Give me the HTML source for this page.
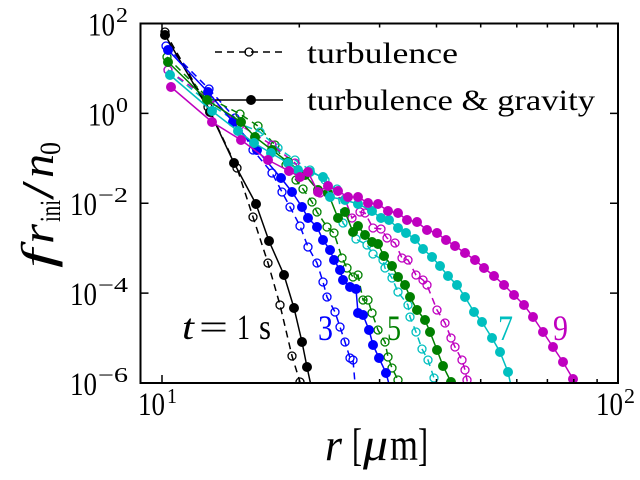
<!DOCTYPE html>
<html><head><meta charset="utf-8">
<style>html,body{margin:0;padding:0;background:#fff;}svg{display:block}</style>
</head>
<body>
<svg width="640" height="480" viewBox="0 0 640 480" xmlns="http://www.w3.org/2000/svg" font-family="'Liberation Serif', serif">
<defs>
<clipPath id="ax"><rect x="141" y="24" width="476.5" height="358.5"/></clipPath>
<marker id="fk" markerUnits="userSpaceOnUse" markerWidth="12" markerHeight="12" refX="6" refY="6" overflow="visible"><circle cx="6" cy="6" r="5" fill="#000"/></marker>
<marker id="fb" markerUnits="userSpaceOnUse" markerWidth="12" markerHeight="12" refX="6" refY="6" overflow="visible"><circle cx="6" cy="6" r="5" fill="#0000ff"/></marker>
<marker id="fg" markerUnits="userSpaceOnUse" markerWidth="12" markerHeight="12" refX="6" refY="6" overflow="visible"><circle cx="6" cy="6" r="5" fill="#008000"/></marker>
<marker id="fc" markerUnits="userSpaceOnUse" markerWidth="12" markerHeight="12" refX="6" refY="6" overflow="visible"><circle cx="6" cy="6" r="5" fill="#00bfbf"/></marker>
<marker id="fm" markerUnits="userSpaceOnUse" markerWidth="12" markerHeight="12" refX="6" refY="6" overflow="visible"><circle cx="6" cy="6" r="5" fill="#bf00bf"/></marker>
<marker id="ok" markerUnits="userSpaceOnUse" markerWidth="12" markerHeight="12" refX="6" refY="6" overflow="visible"><circle cx="6" cy="6" r="4" fill="none" stroke="#000" stroke-width="1.3" stroke-dasharray="none"/></marker>
<marker id="ob" markerUnits="userSpaceOnUse" markerWidth="12" markerHeight="12" refX="6" refY="6" overflow="visible"><circle cx="6" cy="6" r="4" fill="none" stroke="#0000ff" stroke-width="1.3" stroke-dasharray="none"/></marker>
<marker id="og" markerUnits="userSpaceOnUse" markerWidth="12" markerHeight="12" refX="6" refY="6" overflow="visible"><circle cx="6" cy="6" r="4" fill="none" stroke="#008000" stroke-width="1.3" stroke-dasharray="none"/></marker>
<marker id="oc" markerUnits="userSpaceOnUse" markerWidth="12" markerHeight="12" refX="6" refY="6" overflow="visible"><circle cx="6" cy="6" r="4" fill="none" stroke="#00bfbf" stroke-width="1.3" stroke-dasharray="none"/></marker>
<marker id="om" markerUnits="userSpaceOnUse" markerWidth="12" markerHeight="12" refX="6" refY="6" overflow="visible"><circle cx="6" cy="6" r="4" fill="none" stroke="#bf00bf" stroke-width="1.3" stroke-dasharray="none"/></marker>
</defs>
<rect width="640" height="480" fill="#fff"/>

<g clip-path="url(#ax)" fill="none" stroke-width="1.5">
 <!-- turbulence (dashed, open) -->
 <g stroke-dasharray="7,5">
  <polyline stroke="#000" marker-start="url(#ok)" marker-mid="url(#ok)" marker-end="url(#ok)" points="165,32 208,107 237,168 253,217 268,263 280,305 292,356 300,382 304,395"/>
  <polyline stroke="#0000ff" marker-start="url(#ob)" marker-mid="url(#ob)" marker-end="url(#ob)" points="166,46 209,89 235,118 253,150 272,173 282,192 290,207 300,226 308,247 317,263 323,282 327,297 335,312 340,327 345,342 350,358 353,360 356,395"/>
  <polyline stroke="#008000" marker-start="url(#og)" marker-mid="url(#og)" marker-end="url(#og)" points="167,57 207,97 240,114 258,126 275,145 286,165 296,180 303,189 312,202 317,212 327,227 334,233 342,258 347,268 353,277 358,275 363,300 368,300 372,313 378,330 385,342 388,357 392,368 398,380 402,395"/>
  <polyline stroke="#00bfbf" marker-start="url(#oc)" marker-mid="url(#oc)" marker-end="url(#oc)" points="168,70 210,104 238,123 260,132 278,148 295,160 310,170 325,180 337,189 343,223 356,239 367,245 373,254 383,260 385,268 392,278 398,292 408,305 410,317 416,332 422,349 428,360 434,378 438,395"/>
  <polyline stroke="#bf00bf" marker-start="url(#om)" marker-mid="url(#om)" marker-end="url(#om)" points="168,70 210,100 240,125 272,145 295,163 320,193 345,199 352,218 360,212 365,213 373,228 381,229 387,238 395,243 402,258 408,260 416,275 423,280 427,285 437,310 445,323 451,338 455,347 462,360 465,370 467,380 469,395"/>
 </g>
 <!-- turbulence & gravity (solid, filled) -->
 <polyline stroke="#000" marker-start="url(#fk)" marker-mid="url(#fk)" marker-end="url(#fk)" points="165,35 210,112 234,163 256,204 269,241 284,275 294,308 302,342 307,367 313,395"/>
 <polyline stroke="#0000ff" marker-start="url(#fb)" marker-mid="url(#fb)" marker-end="url(#fb)" points="168,50 208,92 233,122 257,150 281,178 292,192 302,207 308,218 317,227 323,240 330,250 334,260 340,270 343,280 350,287 356,289 358,313 363,315 369,330 373,345 379,358 386,373 392,395"/>
 <polyline stroke="#008000" marker-start="url(#fg)" marker-mid="url(#fg)" marker-end="url(#fg)" points="168,62 207,100 241,122 255,137 272,150 288,162 305,175 318,190 328,193 338,218 345,212 353,232 358,226 365,235 372,242 378,244 384,256 392,266 398,277 405,285 410,297 417,310 425,320 430,332 437,350 443,366 451,382 458,395"/>
 <polyline stroke="#00bfbf" marker-start="url(#fc)" marker-mid="url(#fc)" marker-end="url(#fc)" points="170,75 212,111 238,131 254,143 271,153 288,163 298,170 310,172 323,177 330,197 345,200 358,204 372,211 381,218 389,220 398,228 406,233 415,239 423,249 432,257 440,266 448,276 457,285 465,297 474,312 482,322 492,338 500,352 508,372 513,395"/>
 <polyline stroke="#bf00bf" marker-start="url(#fm)" marker-mid="url(#fm)" marker-end="url(#fm)" points="171,87 212,122 241,140 268,160 289,171 300,177 308,172 318,192 328,186 338,191 348,197 358,197 368,203 378,204 388,211 398,213 407,220 417,222 427,230 437,233 446,240 455,246 465,253 475,260 484,268 494,276 504,285 514,295 524,305 533,317 543,332 553,347 563,362 573,379 580,395"/>
</g>

<!-- ticks -->
<g stroke="#000" stroke-width="1.5" fill="none">
 <path d="M140.5,113.4h8M140.5,203.2h8M140.5,293.1h8M618,113.4h-8M618,203.2h-8M618,293.1h-8"/>
 <path d="M162,383v-8M162,23.5v8"/>
 <path d="M299.3,383v-4M379.6,383v-4M436.5,383v-4M480.7,383v-4M516.8,383v-4M547.4,383v-4M573.8,383v-4M597.1,383v-4"/>
 <path d="M299.3,23.5v4M379.6,23.5v4M436.5,23.5v4M480.7,23.5v4M516.8,23.5v4M547.4,23.5v4M573.8,23.5v4M597.1,23.5v4"/>
</g>
<!-- spines -->
<rect x="140.5" y="23.5" width="477.5" height="359.5" fill="none" stroke="#000" stroke-width="2"/>

<!-- legend -->
<line x1="215" y1="52" x2="283" y2="52" stroke="#000" stroke-width="1.5" stroke-dasharray="7,5"/>
<circle cx="249" cy="52" r="4" fill="none" stroke="#000" stroke-width="1.3"/>
<line x1="215" y1="100" x2="283" y2="100" stroke="#000" stroke-width="1.5"/>
<circle cx="251" cy="100" r="5" fill="#000"/>
<text x="307" y="63" font-size="30" textLength="151" lengthAdjust="spacingAndGlyphs">turbulence</text>
<text x="307" y="110" font-size="30" textLength="288" lengthAdjust="spacingAndGlyphs">turbulence &amp; gravity</text>

<!-- y tick labels -->
<g fill="#000">
 <text x="88" y="35.5" font-size="33" textLength="27" lengthAdjust="spacingAndGlyphs">10</text>
 <text x="116" y="22" font-size="21" textLength="12" lengthAdjust="spacingAndGlyphs">2</text>
 <text x="88" y="125.5" font-size="33" textLength="27" lengthAdjust="spacingAndGlyphs">10</text>
 <text x="116" y="112" font-size="21" textLength="12" lengthAdjust="spacingAndGlyphs">0</text>
 <text x="70" y="215" font-size="33" textLength="27" lengthAdjust="spacingAndGlyphs">10</text>
 <text x="98" y="202" font-size="21" textLength="30" lengthAdjust="spacingAndGlyphs">−2</text>
 <text x="70" y="305" font-size="33" textLength="27" lengthAdjust="spacingAndGlyphs">10</text>
 <text x="98" y="292" font-size="21" textLength="30" lengthAdjust="spacingAndGlyphs">−4</text>
 <text x="70" y="395" font-size="33" textLength="27" lengthAdjust="spacingAndGlyphs">10</text>
 <text x="98" y="382" font-size="21" textLength="30" lengthAdjust="spacingAndGlyphs">−6</text>
 <!-- x tick labels -->
 <text x="138" y="415" font-size="33" textLength="27" lengthAdjust="spacingAndGlyphs">10</text>
 <text x="167" y="403" font-size="21" textLength="10" lengthAdjust="spacingAndGlyphs">1</text>
 <text x="596" y="415" font-size="33" textLength="27" lengthAdjust="spacingAndGlyphs">10</text>
 <text x="624" y="403" font-size="21" textLength="11" lengthAdjust="spacingAndGlyphs">2</text>
</g>

<!-- x label -->
<g fill="#000" font-size="46">
 <text x="325" y="460" font-style="italic" textLength="17" lengthAdjust="spacingAndGlyphs">r</text>
 <text x="352" y="460" textLength="10" lengthAdjust="spacingAndGlyphs">[</text>
 <text x="363" y="460" font-style="italic" textLength="25" lengthAdjust="spacingAndGlyphs">μ</text>
 <text x="390" y="460" textLength="28" lengthAdjust="spacingAndGlyphs">m</text>
 <text x="418" y="460" textLength="10" lengthAdjust="spacingAndGlyphs">]</text>
</g>

<!-- y label -->
<g fill="#000" transform="translate(53,268) rotate(-90)">
 <text x="0" y="0" font-size="46" font-style="italic" textLength="19" lengthAdjust="spacingAndGlyphs">f</text>
 <text x="24" y="0" font-size="46" font-style="italic" textLength="20" lengthAdjust="spacingAndGlyphs">r</text>
 <text x="46" y="7" font-size="30" textLength="22" lengthAdjust="spacingAndGlyphs">ini</text>
 <text x="68" y="0" font-size="46" textLength="19" lengthAdjust="spacingAndGlyphs">/</text>
 <text x="90" y="0" font-size="46" font-style="italic" textLength="24" lengthAdjust="spacingAndGlyphs">n</text>
 <text x="113" y="7" font-size="30" textLength="13" lengthAdjust="spacingAndGlyphs">0</text>
</g>

<!-- annotations -->
<g font-size="36">
 <text x="182" y="339" font-style="italic" textLength="12" lengthAdjust="spacingAndGlyphs" fill="#000">t</text>
 <text x="199" y="339" textLength="29" lengthAdjust="spacingAndGlyphs" fill="#000">=</text>
 <text x="237" y="339" textLength="13" lengthAdjust="spacingAndGlyphs" fill="#000">1</text>
 <text x="259" y="339" textLength="12" lengthAdjust="spacingAndGlyphs" fill="#000">s</text>
 <text x="318" y="340" textLength="15" lengthAdjust="spacingAndGlyphs" fill="#0000ff">3</text>
 <text x="387" y="340" textLength="14" lengthAdjust="spacingAndGlyphs" fill="#008000">5</text>
 <text x="498" y="340" textLength="15" lengthAdjust="spacingAndGlyphs" fill="#00bfbf">7</text>
 <text x="553" y="340" textLength="15" lengthAdjust="spacingAndGlyphs" fill="#bf00bf">9</text>
</g>
</svg>
</body></html>
